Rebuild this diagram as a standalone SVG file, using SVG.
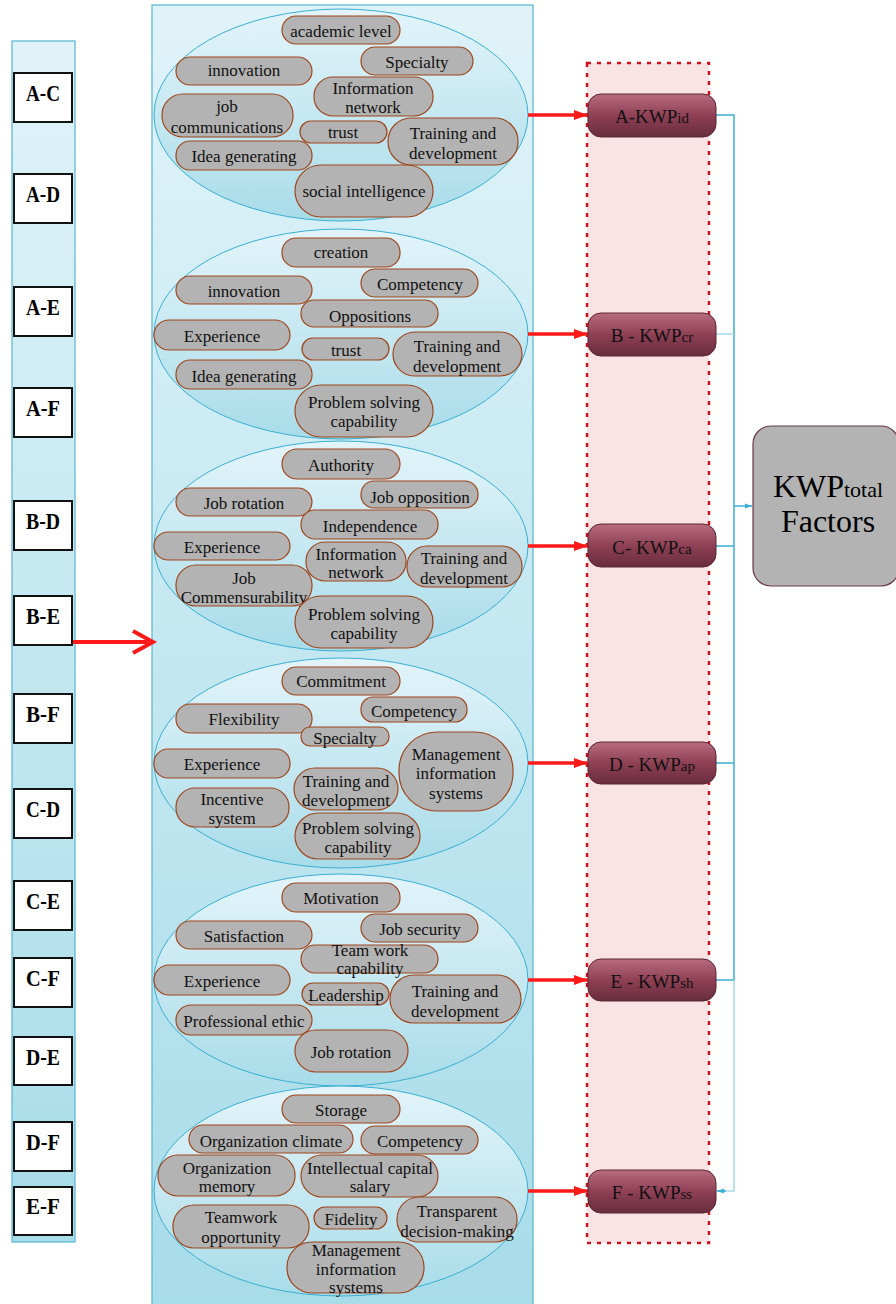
<svg xmlns="http://www.w3.org/2000/svg" width="896" height="1304" viewBox="0 0 896 1304">
<defs>
<linearGradient id="colG" x1="0" y1="0" x2="0" y2="1"><stop offset="0" stop-color="#e0f3f9"/><stop offset="1" stop-color="#a7dce9"/></linearGradient>
<linearGradient id="ellG" x1="0" y1="0" x2="0" y2="1"><stop offset="0" stop-color="#e3f4fa"/><stop offset="1" stop-color="#a8dce9"/></linearGradient>
<linearGradient id="kwpG" x1="0" y1="0" x2="0" y2="1"><stop offset="0" stop-color="#b86c7f"/><stop offset="0.5" stop-color="#8f4055"/><stop offset="1" stop-color="#682d3d"/></linearGradient>
<marker id="redHead" markerUnits="userSpaceOnUse" markerWidth="16" markerHeight="14" refX="14" refY="7" orient="auto"><path d="M0,2 L14,7 L0,12 Z" fill="#ff1a1a"/></marker>
<marker id="blueHead" markerUnits="userSpaceOnUse" markerWidth="8" markerHeight="8" refX="7" refY="4" orient="auto"><path d="M0,1.5 L7,4 L0,6.5 Z" fill="#3aafd2"/></marker>
<style>
.pill{fill:#b3b3b3;stroke:#a0461c;stroke-width:1.2}
.ell{fill:url(#ellG);stroke:#3aafd2;stroke-width:1}
.col{fill:url(#colG);stroke:#55b6d1;stroke-width:1.2}
text{font-family:'Liberation Serif','Times New Roman',Tinos,'DejaVu Serif',serif}
.t{font-size:17px;fill:#111;text-anchor:middle}
.lb{fill:#fff;stroke:#111;stroke-width:2}
.lt{font-weight:bold;font-size:24px;fill:#000;text-anchor:middle}
.kwp{fill:url(#kwpG);stroke:#5a2634;stroke-width:1}
.kt{font-size:19px;fill:#111;text-anchor:middle}
.ks{font-size:15px}
.big{font-size:32px;fill:#000;text-anchor:middle}
.red{stroke:#ff1a1a;stroke-width:3.5;fill:none}
.blue{stroke:#3aafd2;stroke-width:1.5;fill:none}
.blue2{stroke:#a5daea;stroke-width:1.5;fill:none}
</style>
</defs>
<rect width="896" height="1304" fill="#fff"/>

<g id="left-column">
<rect class="col" x="12" y="41" width="63" height="1201"/>
</g>
<g id="pairs">
<g id="p-AC"><rect class="lb" x="14" y="73" width="58" height="49"/><text class="lt" x="43" y="101" textLength="34" lengthAdjust="spacingAndGlyphs">A-C</text></g>
<g id="p-AD"><rect class="lb" x="14" y="174" width="58" height="49"/><text class="lt" x="43" y="202" textLength="34" lengthAdjust="spacingAndGlyphs">A-D</text></g>
<g id="p-AE"><rect class="lb" x="14" y="287" width="58" height="49"/><text class="lt" x="43" y="315" textLength="34" lengthAdjust="spacingAndGlyphs">A-E</text></g>
<g id="p-AF"><rect class="lb" x="14" y="388" width="58" height="49"/><text class="lt" x="43" y="416" textLength="34" lengthAdjust="spacingAndGlyphs">A-F</text></g>
<g id="p-BD"><rect class="lb" x="14" y="501" width="58" height="49"/><text class="lt" x="43" y="529" textLength="34" lengthAdjust="spacingAndGlyphs">B-D</text></g>
<g id="p-BE"><rect class="lb" x="14" y="596" width="58" height="49"/><text class="lt" x="43" y="624" textLength="34" lengthAdjust="spacingAndGlyphs">B-E</text></g>
<g id="p-BF"><rect class="lb" x="14" y="694" width="58" height="49"/><text class="lt" x="43" y="722" textLength="34" lengthAdjust="spacingAndGlyphs">B-F</text></g>
<g id="p-CD"><rect class="lb" x="14" y="789" width="58" height="49"/><text class="lt" x="43" y="817" textLength="34" lengthAdjust="spacingAndGlyphs">C-D</text></g>
<g id="p-CE"><rect class="lb" x="14" y="881" width="58" height="49"/><text class="lt" x="43" y="909" textLength="34" lengthAdjust="spacingAndGlyphs">C-E</text></g>
<g id="p-CF"><rect class="lb" x="14" y="958" width="58" height="49"/><text class="lt" x="43" y="986" textLength="34" lengthAdjust="spacingAndGlyphs">C-F</text></g>
<g id="p-DE"><rect class="lb" x="14" y="1037" width="58" height="48"/><text class="lt" x="43" y="1065" textLength="34" lengthAdjust="spacingAndGlyphs">D-E</text></g>
<g id="p-DF"><rect class="lb" x="14" y="1122" width="58" height="49"/><text class="lt" x="43" y="1150" textLength="34" lengthAdjust="spacingAndGlyphs">D-F</text></g>
<g id="p-EF"><rect class="lb" x="14" y="1187" width="58" height="48"/><text class="lt" x="43" y="1214" textLength="34" lengthAdjust="spacingAndGlyphs">E-F</text></g>
</g>

<g id="middle-column">
<rect class="col" x="152" y="5" width="381" height="1305"/>
</g>

<g id="cluster-A">
<ellipse class="ell" cx="341" cy="115" rx="187" ry="106"/>
<g id="a1"><rect class="pill" x="282" y="16" width="118" height="28" rx="14"/><text class="t" x="341" y="37">academic level</text></g>
<g id="a2"><rect class="pill" x="361" y="47" width="112" height="28" rx="14"/><text class="t" x="417" y="68">Specialty</text></g>
<g id="a3"><rect class="pill" x="176" y="57" width="136" height="28" rx="14"/><text class="t" x="244" y="76">innovation</text></g>
<g id="a4"><rect class="pill" x="314" y="77" width="119" height="39" rx="19"/><text class="t" x="373" y="94">Information<tspan x="373" dy="19">network</tspan></text></g>
<g id="a5"><rect class="pill" x="162" y="94" width="131" height="43" rx="21"/><text class="t" x="227" y="112">job<tspan x="227" dy="21">communications</tspan></text></g>
<g id="a6"><rect class="pill" x="300" y="121" width="87" height="22" rx="11"/><text class="t" x="343" y="138">trust</text></g>
<g id="a7"><rect class="pill" x="388" y="118" width="130" height="47" rx="23"/><text class="t" x="453" y="139">Training and<tspan x="453" dy="20">development</tspan></text></g>
<g id="a8"><rect class="pill" x="176" y="141" width="136" height="29" rx="14"/><text class="t" x="244" y="162">Idea generating</text></g>
<g id="a9"><rect class="pill" x="295" y="165" width="138" height="52" rx="26"/><text class="t" x="364" y="197">social intelligence</text></g>
</g>

<g id="cluster-B">
<ellipse class="ell" cx="341" cy="334" rx="187" ry="105"/>
<g id="b1"><rect class="pill" x="282" y="238" width="118" height="29" rx="14"/><text class="t" x="341" y="258">creation</text></g>
<g id="b2"><rect class="pill" x="361" y="269" width="117" height="28" rx="14"/><text class="t" x="420" y="290">Competency</text></g>
<g id="b3"><rect class="pill" x="176" y="276" width="136" height="28" rx="14"/><text class="t" x="244" y="297">innovation</text></g>
<g id="b4"><rect class="pill" x="301" y="300" width="137" height="27" rx="13"/><text class="t" x="370" y="322">Oppositions</text></g>
<g id="b5"><rect class="pill" x="154" y="320" width="136" height="30" rx="15"/><text class="t" x="222" y="342">Experience</text></g>
<g id="b6"><rect class="pill" x="302" y="338" width="87" height="22" rx="11"/><text class="t" x="346" y="356">trust</text></g>
<g id="b7"><rect class="pill" x="393" y="332" width="129" height="44" rx="22"/><text class="t" x="457" y="352">Training and<tspan x="457" dy="20">development</tspan></text></g>
<g id="b8"><rect class="pill" x="176" y="360" width="136" height="29" rx="14"/><text class="t" x="244" y="382">Idea generating</text></g>
<g id="b9"><rect class="pill" x="295" y="385" width="138" height="52" rx="26"/><text class="t" x="364" y="408">Problem solving<tspan x="364" dy="19">capability</tspan></text></g>
</g>

<g id="cluster-C">
<ellipse class="ell" cx="341" cy="546" rx="187" ry="105"/>
<g id="c1"><rect class="pill" x="282" y="449" width="118" height="30" rx="15"/><text class="t" x="341" y="471">Authority</text></g>
<g id="c2"><rect class="pill" x="361" y="481" width="117" height="27" rx="13"/><text class="t" x="420" y="503">Job opposition</text></g>
<g id="c3"><rect class="pill" x="176" y="488" width="136" height="28" rx="14"/><text class="t" x="244" y="509">Job rotation</text></g>
<g id="c4"><rect class="pill" x="301" y="510" width="137" height="29" rx="14"/><text class="t" x="370" y="532">Independence</text></g>
<g id="c5"><rect class="pill" x="154" y="532" width="136" height="28" rx="14"/><text class="t" x="222" y="553">Experience</text></g>
<g id="c6"><rect class="pill" x="306" y="542" width="100" height="39" rx="19"/><text class="t" x="356" y="560">Information<tspan x="356" dy="18">network</tspan></text></g>
<g id="c7"><rect class="pill" x="407" y="546" width="115" height="41" rx="20"/><text class="t" x="464" y="564">Training and<tspan x="464" dy="20">development</tspan></text></g>
<g id="c8"><rect class="pill" x="176" y="565" width="136" height="41" rx="20"/><text class="t" x="244" y="584">Job<tspan x="244" dy="19">Commensurability</tspan></text></g>
<g id="c9"><rect class="pill" x="295" y="596" width="138" height="52" rx="26"/><text class="t" x="364" y="620">Problem solving<tspan x="364" dy="19">capability</tspan></text></g>
</g>

<g id="cluster-D">
<ellipse class="ell" cx="341" cy="763" rx="187" ry="105"/>
<g id="d1"><rect class="pill" x="282" y="667" width="118" height="28" rx="14"/><text class="t" x="341" y="687">Commitment</text></g>
<g id="d2"><rect class="pill" x="361" y="697" width="106" height="25" rx="12"/><text class="t" x="414" y="717">Competency</text></g>
<g id="d3"><rect class="pill" x="176" y="704" width="136" height="29" rx="14"/><text class="t" x="244" y="725">Flexibility</text></g>
<g id="d4"><rect class="pill" x="301" y="727" width="88" height="19" rx="9"/><text class="t" x="345" y="744">Specialty</text></g>
<g id="d5"><rect class="pill" x="154" y="749" width="136" height="29" rx="14"/><text class="t" x="222" y="770">Experience</text></g>
<g id="d6"><rect class="pill" x="399" y="732" width="114" height="79" rx="38"/><text class="t" x="456" y="760">Management<tspan x="456" dy="19">information</tspan><tspan x="456" dy="20">systems</tspan></text></g>
<g id="d7"><rect class="pill" x="294" y="768" width="104" height="42" rx="21"/><text class="t" x="346" y="787">Training and<tspan x="346" dy="19">development</tspan></text></g>
<g id="d8"><rect class="pill" x="176" y="788" width="113" height="39" rx="19"/><text class="t" x="232" y="805">Incentive<tspan x="232" dy="19">system</tspan></text></g>
<g id="d9"><rect class="pill" x="295" y="813" width="125" height="46" rx="23"/><text class="t" x="358" y="834">Problem solving<tspan x="358" dy="19">capability</tspan></text></g>
</g>

<g id="cluster-E">
<ellipse class="ell" cx="341" cy="980" rx="187" ry="106"/>
<g id="e1"><rect class="pill" x="282" y="883" width="118" height="29" rx="14"/><text class="t" x="341" y="904">Motivation</text></g>
<g id="e2"><rect class="pill" x="361" y="914" width="117" height="28" rx="14"/><text class="t" x="420" y="935">Job security</text></g>
<g id="e3"><rect class="pill" x="176" y="921" width="136" height="28" rx="14"/><text class="t" x="244" y="942">Satisfaction</text></g>
<g id="e4"><rect class="pill" x="301" y="945" width="137" height="28" rx="14"/><text class="t" x="370" y="956">Team work<tspan x="370" dy="18">capability</tspan></text></g>
<g id="e5"><rect class="pill" x="154" y="965" width="136" height="30" rx="15"/><text class="t" x="222" y="987">Experience</text></g>
<g id="e6"><rect class="pill" x="302" y="983" width="87" height="22" rx="11"/><text class="t" x="346" y="1001">Leadership</text></g>
<g id="e7"><rect class="pill" x="390" y="975" width="131" height="48" rx="24"/><text class="t" x="455" y="997">Training and<tspan x="455" dy="20">development</tspan></text></g>
<g id="e8"><rect class="pill" x="176" y="1005" width="136" height="30" rx="15"/><text class="t" x="244" y="1027">Professional ethic</text></g>
<g id="e9"><rect class="pill" x="295" y="1030" width="113" height="42" rx="21"/><text class="t" x="351" y="1058">Job rotation</text></g>
</g>

<g id="cluster-F">
<ellipse class="ell" cx="341" cy="1191" rx="187" ry="105"/>
<g id="f1"><rect class="pill" x="282" y="1095" width="118" height="28" rx="14"/><text class="t" x="341" y="1116">Storage</text></g>
<g id="f2"><rect class="pill" x="189" y="1125" width="164" height="28" rx="14"/><text class="t" x="271" y="1147">Organization climate</text></g>
<g id="f3"><rect class="pill" x="361" y="1126" width="117" height="28" rx="14"/><text class="t" x="420" y="1147">Competency</text></g>
<g id="f4"><rect class="pill" x="158" y="1155" width="137" height="41" rx="20"/><text class="t" x="227" y="1174">Organization<tspan x="227" dy="18">memory</tspan></text></g>
<g id="f5"><rect class="pill" x="301" y="1155" width="137" height="42" rx="21"/><text class="t" x="370" y="1174">Intellectual capital<tspan x="370" dy="18">salary</tspan></text></g>
<g id="f6"><rect class="pill" x="173" y="1205" width="136" height="43" rx="21"/><text class="t" x="241" y="1223">Teamwork<tspan x="241" dy="20">opportunity</tspan></text></g>
<g id="f7"><rect class="pill" x="314" y="1207" width="73" height="22" rx="11"/><text class="t" x="351" y="1225">Fidelity</text></g>
<g id="f8"><rect class="pill" x="397" y="1197" width="120" height="45" rx="22"/><text class="t" x="457" y="1217">Transparent<tspan x="457" dy="20">decision-making</tspan></text></g>
<g id="f9"><rect class="pill" x="287" y="1242" width="137" height="51" rx="25"/><text class="t" x="356" y="1256">Management<tspan x="356" dy="19">information</tspan><tspan x="356" dy="18">systems</tspan></text></g>
</g>

<g id="kwp-band">
<rect x="587" y="63" width="122" height="1180" fill="#fae3e4" stroke="#d0101b" stroke-width="2.5" stroke-dasharray="4,6"/>
</g>

<g id="connectors">
<path d="M73,642 H152" stroke="#ff1a1a" stroke-width="4" fill="none"/>
<path d="M133,631 L153,642 L133,653" stroke="#ff1a1a" stroke-width="4" fill="none"/>
<line class="red" x1="528" y1="115" x2="588" y2="115" marker-end="url(#redHead)"/>
<line class="red" x1="528" y1="334" x2="588" y2="334" marker-end="url(#redHead)"/>
<line class="red" x1="528" y1="546" x2="588" y2="546" marker-end="url(#redHead)"/>
<line class="red" x1="528" y1="763" x2="588" y2="763" marker-end="url(#redHead)"/>
<line class="red" x1="528" y1="980" x2="588" y2="980" marker-end="url(#redHead)"/>
<line class="red" x1="528" y1="1191" x2="588" y2="1191" marker-end="url(#redHead)"/>
<path class="blue" d="M716,115 H734 V980 H716"/>
<path class="blue2" d="M716,334 H734"/>
<path class="blue" d="M716,546 H734 M716,763 H734"/>
<path class="blue2" d="M734,980 V1191 H718"/>
<path d="M726,1191 H717" stroke="#3aafd2" stroke-width="1.5" marker-end="url(#blueHead)"/>
<path class="blue" d="M734,506 H752" marker-end="url(#blueHead)"/>
</g>

<g id="kwp-A"><rect class="kwp" x="588" y="94" width="128" height="43" rx="13"/><text class="kt" x="652" y="123">A-KWP<tspan class="ks">id</tspan></text></g>
<g id="kwp-B"><rect class="kwp" x="588" y="313" width="128" height="43" rx="13"/><text class="kt" x="652" y="342">B - KWP<tspan class="ks">cr</tspan></text></g>
<g id="kwp-C"><rect class="kwp" x="588" y="524" width="128" height="43" rx="13"/><text class="kt" x="652" y="554">C- KWP<tspan class="ks">ca</tspan></text></g>
<g id="kwp-D"><rect class="kwp" x="588" y="742" width="128" height="42" rx="13"/><text class="kt" x="652" y="771">D - KWP<tspan class="ks">ap</tspan></text></g>
<g id="kwp-E"><rect class="kwp" x="588" y="959" width="128" height="42" rx="13"/><text class="kt" x="652" y="988">E - KWP<tspan class="ks">sh</tspan></text></g>
<g id="kwp-F"><rect class="kwp" x="588" y="1170" width="128" height="43" rx="13"/><text class="kt" x="652" y="1199">F - KWP<tspan class="ks">ss</tspan></text></g>

<g id="kwp-total">
<rect x="753" y="426" width="146" height="160" rx="18" fill="#b3b3b3" stroke="#6b3a48" stroke-width="1.2"/>
<text class="big" x="828" y="497">KWP<tspan font-size="22">total</tspan></text>
<text class="big" x="828" y="532">Factors</text>
</g>
</svg>
